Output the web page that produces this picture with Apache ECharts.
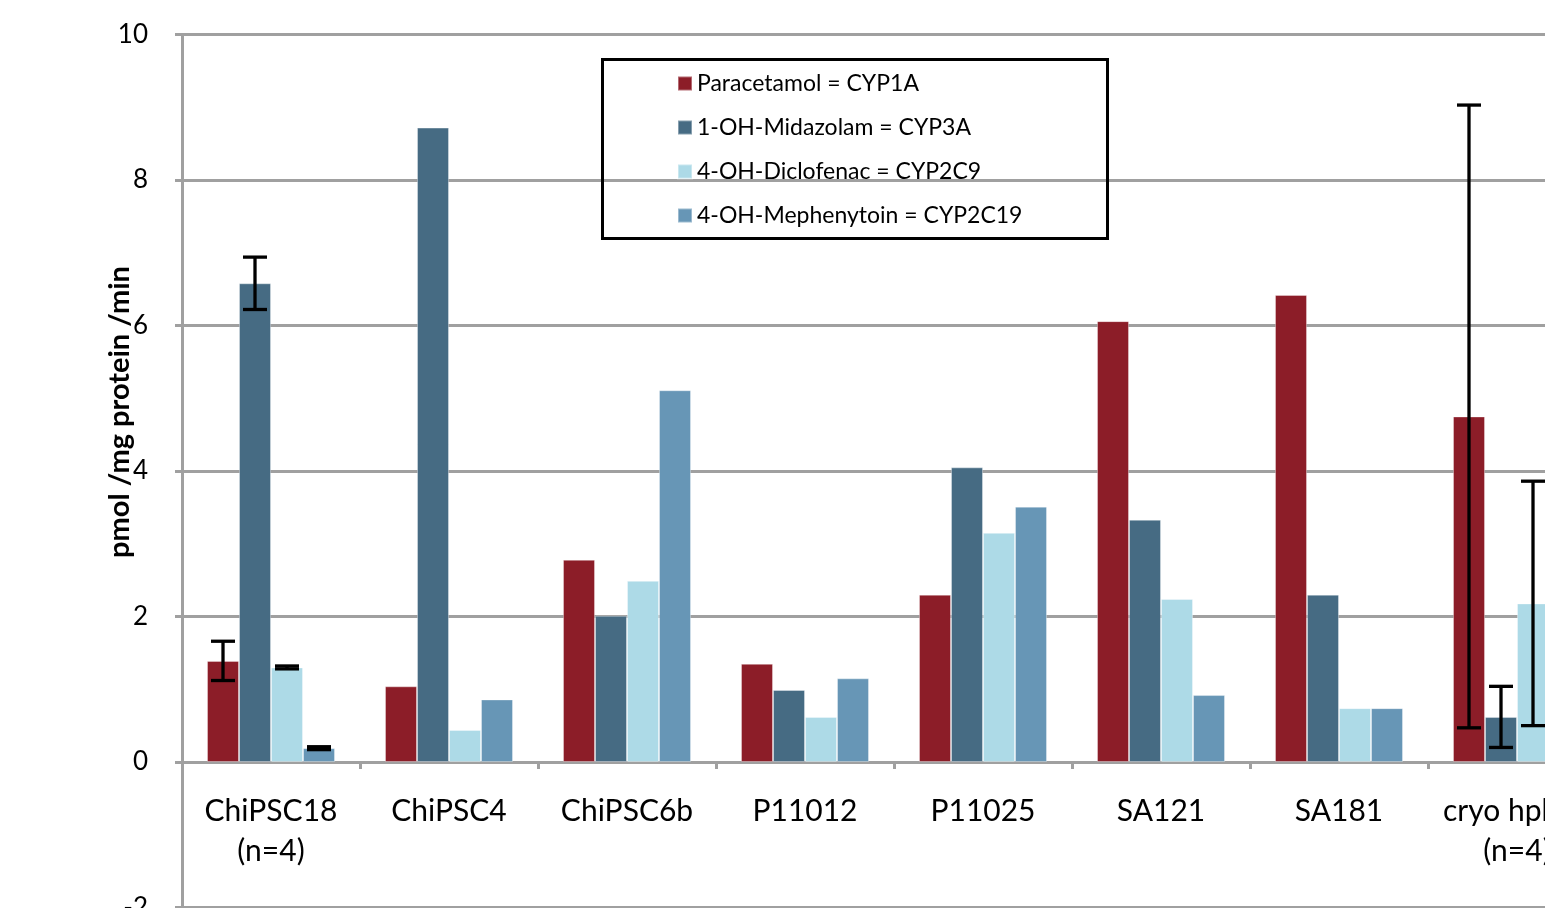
<!DOCTYPE html>
<html>
<head>
<meta charset="utf-8">
<title>CYP activity</title>
<script src="https://cdn.jsdelivr.net/npm/echarts@6/dist/echarts.min.js"></script>
<style>
  html, body { margin: 0; padding: 0; background: #fff; overflow: hidden; }
  #chart { width: 1545px; height: 908px; }
</style>
</head>
<body>
<div id="chart"></div>
<script>
// Cell lines / hepatocyte sources on the x axis
const categories = ['ChiPSC18\n(n=4)', 'ChiPSC4', 'ChiPSC6b', 'P11012', 'P11025', 'SA121', 'SA181', 'cryo hphep\n(n=4)'];

// Metabolite formation rates, pmol /mg protein /min
const paracetamol = [1.39, 1.04, 2.78, 1.35, 2.30, 6.06, 6.42, 4.75];
const midazolam   = [6.58, 8.72, 2.01, 0.99, 4.05, 3.33, 2.30, 0.62];
const diclofenac  = [1.30, 0.44, 2.49, 0.62, 3.15, 2.24, 0.74, 2.18];
const mephenytoin = [0.19, 0.86, 5.11, 1.15, 3.51, 0.92, 0.74, null];

// Standard deviations (only the n=4 groups have them)
const paracetamolSD = [0.27, null, null, null, null, null, null, 4.28];
const midazolamSD   = [0.36, null, null, null, null, null, null, 0.42];
const diclofenacSD  = [0.02, null, null, null, null, null, null, 1.68];
const mephenytoinSD = [0.02, null, null, null, null, null, null, null];

const seriesNames = ['Paracetamol = CYP1A', '1-OH-Midazolam = CYP3A', '4-OH-Diclofenac = CYP2C9', '4-OH-Mephenytoin = CYP2C19'];
const yTicks = { min: -2, max: 10, interval: 2 };

const colors = ['#8C1D28', '#466B83', '#ADDAE7', '#6796B6'];
const FONT = 'Lato, "Open Sans", sans-serif';
const BAR_W = 32;

// Plot box: y runs from -2 (bottom) to 10 (top)
const GRID_TOP = 34.5;
const GRID_H = 873;
const ZERO_Y = GRID_TOP + GRID_H * (yTicks.max - 0) / (yTicks.max - yTicks.min);
// Category labels hang just below the zero line rather than the plot bottom
const LABEL_MARGIN = 29 - (GRID_TOP + GRID_H - ZERO_Y);

const values = [paracetamol, midazolam, diclofenac, mephenytoin];
const sds = [paracetamolSD, midazolamSD, diclofenacSD, mephenytoinSD];

const barSeries = values.map((vals, i) => ({
  name: seriesNames[i],
  type: 'bar',
  data: vals,
  barWidth: BAR_W,
  barGap: '0%',
  itemStyle: { color: colors[i], borderColor: 'rgba(255,255,255,0.35)', borderWidth: 1 },
  z: 3
}));

// Error bars, offset to sit over the matching bar within each group
const errorSeries = sds.map((sd, i) => {
  const pts = [];
  sd.forEach((e, c) => {
    if (e != null && values[i][c] != null) pts.push([c, values[i][c], e]);
  });
  const offset = (i - 1.5) * BAR_W;
  return {
    type: 'custom',
    name: seriesNames[i] + ' SD',
    data: pts,
    z: 5,
    silent: true,
    clip: false,
    renderItem: function (params, api) {
      const c = api.value(0), v = api.value(1), e = api.value(2);
      const hi = api.coord([c, v + e]);
      const lo = api.coord([c, v - e]);
      const x = hi[0] + offset;
      const cap = 12;
      const style = { stroke: '#000', lineWidth: 3.3 };
      return {
        type: 'group',
        children: [
          { type: 'line', shape: { x1: x, y1: hi[1], x2: x, y2: lo[1] }, style: style },
          { type: 'line', shape: { x1: x - cap, y1: hi[1], x2: x + cap, y2: hi[1] }, style: style },
          { type: 'line', shape: { x1: x - cap, y1: lo[1], x2: x + cap, y2: lo[1] }, style: style }
        ]
      };
    }
  };
});

const chart = echarts.init(document.getElementById('chart'), null, { renderer: 'canvas' });

chart.setOption({
  animation: false,
  backgroundColor: '#fff',
  grid: { left: 182, top: GRID_TOP, width: 1424, height: GRID_H, containLabel: false, outerBoundsMode: 'none' },
  legend: {
    orient: 'vertical',
    left: 677,
    top: 72,
    itemWidth: 14,
    itemHeight: 14,
    itemGap: 21,
    padding: 0,
    icon: 'rect',
    data: seriesNames,
    textStyle: { fontFamily: FONT, fontSize: 23, color: '#000', lineHeight: 22 }
  },
  xAxis: {
    type: 'category',
    data: categories,
    axisLine: { onZero: true, lineStyle: { color: '#A0A0A0', width: 3 } },
    axisTick: { show: true, length: 7, interval: 0, lineStyle: { color: '#A0A0A0', width: 3 } },
    axisLabel: { interval: 0, fontFamily: FONT, fontSize: 30, color: '#000', lineHeight: 40, margin: LABEL_MARGIN },
    splitLine: { show: false }
  },
  yAxis: {
    type: 'value',
    min: yTicks.min,
    max: yTicks.max,
    interval: yTicks.interval,
    axisLine: { show: true, lineStyle: { color: '#A0A0A0', width: 3 } },
    axisTick: { show: true, length: 7, lineStyle: { color: '#A0A0A0', width: 3 } },
    axisLabel: { fontFamily: FONT, fontSize: 26, color: '#000', margin: 34 },
    splitLine: { show: true, lineStyle: { color: '#A0A0A0', width: 3 } }
  },
  graphic: [
    {
      type: 'rect',
      left: 601, top: 58,
      shape: { width: 505, height: 179 },
      style: { fill: 'transparent', stroke: '#000', lineWidth: 3 },
      z: 10
    },
    {
      type: 'text',
      x: 120, y: 412,
      rotation: Math.PI / 2,
      style: {
        text: 'pmol /mg protein /min',
        fontFamily: FONT, fontSize: 29, fontWeight: 'bold', fill: '#000',
        align: 'center', verticalAlign: 'middle'
      },
      z: 10
    }
  ],
  series: barSeries.concat(errorSeries)
});
</script>
</body>
</html>
